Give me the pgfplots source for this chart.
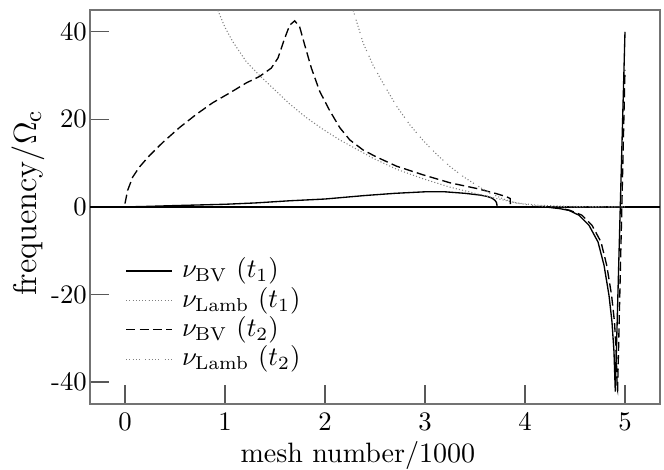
\documentclass[border=0pt]{standalone}
\usepackage{pgfplots}
\pgfplotsset{compat=1.18}
\begin{document}
\begin{tikzpicture}
\begin{axis}[
  scale only axis,
  width=213.5pt, height=147.6pt,
  xmin=-0.35, xmax=5.35,
  ymin=-45, ymax=45,
  xtick={0,1,2,3,4,5},
  ytick={-40,-20,0,20,40},
  yticklabels={-40,-20,0,20,40},
  tick pos=left,
  tick align=inside,
  major tick length=7pt,
  axis line style={black!55, line width=0.5pt},
  tick style={black!65, line width=0.5pt},
  yticklabel style={inner sep=1pt},
  xlabel={mesh number/1000},
  ylabel={frequency/$\Omega_{\rm c}$},
  xlabel style={at={(axis description cs:0.47,0)}, anchor=center, yshift=-19.3pt,
    font=\fontsize{10.5}{12}\selectfont},
  ylabel style={at={(axis description cs:0,0.51)}, anchor=center, yshift=23.2pt,
    font=\fontsize{12.3}{14}\selectfont},
  legend style={draw=none, fill=none, inner sep=0pt,
    at={(0.0614,0.376)}, anchor=north west,
    row sep=0pt,
    nodes={inner xsep=3.6pt, inner ysep=0.5pt, text height=7.5pt, text depth=2.5pt}},
  legend cell align=left,
  every axis plot/.append style={line width=0.5pt},
]
\addplot [black, forget plot] coordinates {(-0.35,0) (5.35,0)};
% nu_BV (t1)
\addplot [black] coordinates {
(0,0) (0.2,0.1) (0.5,0.3) (1.0,0.6) (1.3,0.9) (1.647,1.4) (2.0,1.8)
(2.2,2.2) (2.4,2.6) (2.7,3.1) (3.0,3.45) (3.2,3.45) (3.4,3.1) (3.55,2.7)
(3.62,2.4) (3.67,2.0) (3.70,1.5) (3.715,1.0) (3.72,0.4) (3.72,0)
(3.9,0) (4.1,0) (4.24,-0.1) (4.35,-0.4) (4.44,-0.8) (4.54,-1.9)
(4.64,-4.2) (4.73,-8.0) (4.79,-13.3) (4.84,-20.2) (4.87,-26.3)
(4.89,-33.1) (4.903,-42.2) (5.0,40)
};
% nu_Lamb (t1)
\addplot [gray, line width=0.4pt, dash pattern=on 0.4pt off 0.8pt] coordinates {
(0.90,47) (0.929,44.9) (1.0,41.0) (1.079,37.7) (1.212,33.2) (1.346,30.0)
(1.513,26.4) (1.647,23.5) (1.814,20.4) (1.981,17.7) (2.148,15.3)
(2.315,13.2) (2.482,11.1) (2.716,8.6) (2.984,6.4) (3.251,4.5)
(3.518,3.0) (3.718,1.9) (3.919,0.9) (4.12,0.4) (4.39,0.15) (4.6,0.05) (5.0,0)
};
% nu_BV (t2)
\addplot [black, dash pattern=on 3.4pt off 1.6pt] coordinates {
(0,0.75) (0.027,3.8) (0.077,6.8) (0.144,9.1) (0.244,11.7) (0.377,14.7)
(0.544,18.1) (0.711,21.1) (0.878,23.8) (1.045,26.0) (1.212,28.3)
(1.346,29.8) (1.463,31.7) (1.53,34.0) (1.597,38.5) (1.647,41.5)
(1.697,42.5) (1.747,41.1) (1.797,37.0) (1.864,31.7) (1.947,26.4)
(2.047,22.0) (2.148,18.1) (2.248,15.3) (2.381,13.0) (2.515,11.4)
(2.716,9.3) (2.984,7.3) (3.251,5.5) (3.518,4.2) (3.718,3.0)
(3.818,2.3) (3.852,1.9) (3.855,0) (4.0,0) (4.2,0) (4.34,-0.2)
(4.45,-0.8) (4.57,-1.9) (4.67,-4.2) (4.76,-8.0) (4.817,-13.3)
(4.866,-20.2) (4.895,-26.3) (4.912,-33.1) (4.922,-41.5) (4.926,-41.9) (5.0,31.3)
};
% nu_Lamb (t2)
\addplot [gray, line width=0.4pt, dash pattern=on 0.4pt off 0.8pt on 0.4pt off 0.8pt on 0.4pt off 0.8pt on 0.4pt off 0.8pt on 0.4pt off 2pt] coordinates {
(2.26,47) (2.282,44.9) (2.382,37.4) (2.482,32.3) (2.582,28.2)
(2.716,23.0) (2.85,18.7) (2.984,15.1) (3.117,12.0) (3.251,9.2)
(3.384,6.9) (3.518,4.9) (3.652,3.1) (3.785,1.8) (3.919,0.85)
(4.052,0.4) (4.186,0.15) (4.39,0.03) (5.0,0)
};
\legend{$\nu_{\rm BV}\ (t_1)$, $\nu_{\rm Lamb}\ (t_1)$, $\nu_{\rm BV}\ (t_2)$, $\nu_{\rm Lamb}\ (t_2)$}
\end{axis}
\pgfresetboundingbox
\path ([xshift=-33.7pt,yshift=-24.7pt]current axis.south west)
  rectangle ([xshift=1.5pt,yshift=3.7pt]current axis.north east);
\end{tikzpicture}
\end{document}
